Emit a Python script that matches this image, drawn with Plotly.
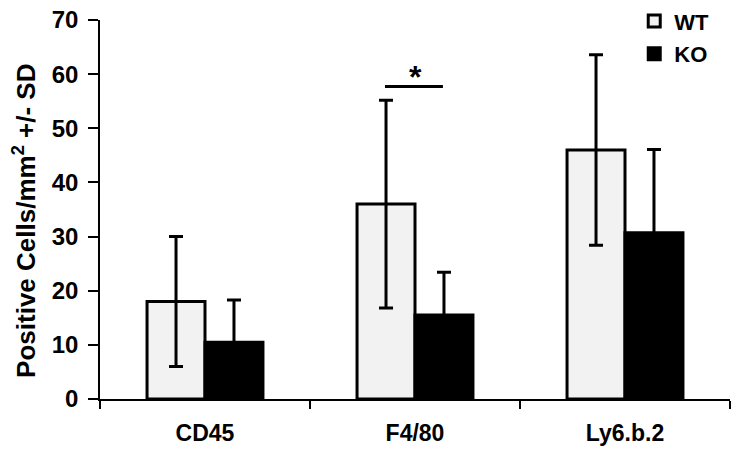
import plotly.graph_objects as go

categories = ["CD45", "F4/80", "Ly6.b.2"]
wt_mean = [18.0, 36.0, 46.0]
wt_sd = [12.0, 19.2, 17.6]
ko_mean = [10.5, 15.5, 30.7]
ko_sd = [7.8, 7.9, 15.4]
y_ticks = [0, 10, 20, 30, 40, 50, 60, 70]

FONT = "Arial, Liberation Sans, sans-serif"

fig = go.Figure()
fig.add_trace(go.Bar(
    name="WT", x=categories, y=wt_mean,
    marker=dict(color="#f2f2f2", line=dict(color="black", width=3)),
    error_y=dict(type="data", array=wt_sd, visible=True, color="black", thickness=3, width=7),
    legendgroup="wt",
))
fig.add_trace(go.Bar(
    name="KO", x=categories, y=ko_mean,
    marker=dict(color="black", line=dict(color="black", width=3)),
    error_y=dict(type="data", array=ko_sd, visible=True, color="black", thickness=3, width=7),
    legendgroup="ko",
))

# significance marker
fig.add_shape(type="line", xref="x", yref="y", x0=0.857, x1=1.133, y0=57.7, y1=57.7,
              line=dict(color="black", width=3))
fig.add_annotation(x=1.0, y=59.4, xref="x", yref="y", text="<b>*</b>", showarrow=False,
                   font=dict(family=FONT, size=32, color="black"))

# y-axis title as rotated text
fig.add_annotation(x=-0.119, y=0.47, xref="paper", yref="paper", textangle=-90,
                   text="<b>Positive Cells/mm<sup>2</sup> +/- SD</b>", showarrow=False,
                   xanchor="center", yanchor="middle",
                   font=dict(family=FONT, size=26, color="black"))

fig.update_layout(
    width=736, height=457,
    margin=dict(l=100, r=6, t=20, b=58, autoexpand=False),
    paper_bgcolor="white", plot_bgcolor="white",
    barmode="group", bargap=0.448, bargroupgap=0,
    font=dict(family=FONT, color="black"),
    showlegend=True,
    legend=dict(x=0.848, y=1.052, xanchor="left", yanchor="top",
                font=dict(family=FONT, size=22, color="black", weight="bold"),
                tracegroupgap=1, bgcolor="rgba(0,0,0,0)", itemwidth=30),
    xaxis=dict(
        showline=True, linecolor="black", linewidth=1.5,
        ticks="outside", ticklen=8, tickcolor="black", tickwidth=1.5,
        tickson="boundaries",
        tickfont=dict(family=FONT, size=23, color="black", weight="bold"),
        ticklabelstandoff=13,
        showgrid=False, automargin=False,
    ),
    yaxis=dict(
        range=[0, 70], tickvals=y_ticks,
        showline=True, linecolor="black", linewidth=1.5,
        ticks="outside", ticklen=10, tickcolor="black", tickwidth=1.5,
        tickfont=dict(family=FONT, size=24, color="black", weight="bold"),
        ticklabelstandoff=5,
        showgrid=False, zeroline=False, automargin=False,
    ),
)

fig.write_html("out.html", config={"displayModeBar": False},
               post_script="document.body.style.margin='0px';document.body.style.overflow='hidden';")
